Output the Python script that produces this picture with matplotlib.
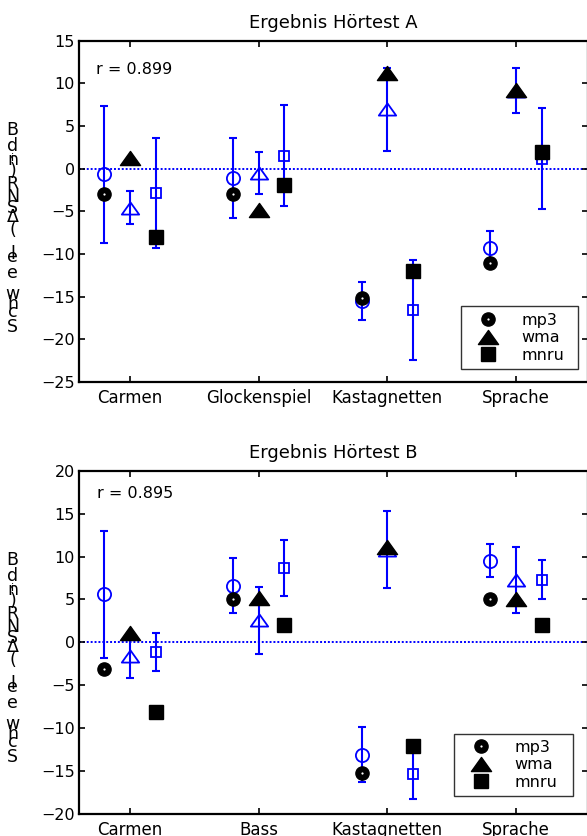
import matplotlib
matplotlib.use('Agg')
import matplotlib.pyplot as plt
from matplotlib.lines import Line2D
from matplotlib.path import Path

plt.rcParams['font.family'] = ['DejaVu Sans']

W, H, DPI = 587, 836, 100

series = ['mp3', 'wma', 'mnru']

# ---- Hörtest A ----
cats_a = ['Carmen', 'Glockenspiel', 'Kastagnetten', 'Sprache']
pred_mp3_a = [-3.0, -3.0, -15.1, -11.0]
pred_wma_a = [1.2, -4.8, 11.2, 9.2]
pred_mnru_a = [-8.0, -1.9, -12.0, 2.0]
hear_mp3_a = [-0.65, -1.1, -15.5, -9.3]
hear_mp3_err_a = [8.05, 4.67, 2.23, 2.05]
hear_wma_a = [-4.55, -0.5, 6.95, 9.15]
hear_wma_err_a = [1.9, 2.45, 4.87, 2.68]
hear_mnru_a = [-2.9, 1.5, -16.55, 1.15]
hear_mnru_err_a = [6.45, 5.92, 5.87, 5.92]
r_a = 'r = 0.899'
title_a = 'Ergebnis Hörtest A'
yticks_a = [-25, -20, -15, -10, -5, 0, 5, 10, 15]

# ---- Hörtest B ----
cats_b = ['Carmen', 'Bass', 'Kastagnetten', 'Sprache']
pred_mp3_b = [-3.1, 5.0, -15.2, 5.0]
pred_wma_b = [1.1, 5.2, 11.1, 5.1]
pred_mnru_b = [-8.1, 2.0, -12.1, 2.0]
hear_mp3_b = [5.6, 6.6, -13.1, 9.5]
hear_mp3_err_b = [7.4, 3.17, 3.22, 1.93]
hear_wma_b = [-1.6, 2.55, 10.8, 7.26]
hear_wma_err_b = [2.6, 3.95, 4.47, 3.83]
hear_mnru_b = [-1.1, 8.63, -15.3, 7.3]
hear_mnru_err_b = [2.2, 3.28, 3.0, 2.3]
r_b = 'r = 0.895'
title_b = 'Ergebnis Hörtest B'
yticks_b = [-20, -15, -10, -5, 0, 5, 10, 15, 20]

ylabel_chars = ['B', 'd', 'n', 'i', ')', 'R', 'N', 'S', 'Δ', '(', 'l', 'e', 'e', 'w', 'h', 'c', 'S']

BLUE = '#0000ff'
TRI = Path([(-1, -0.7), (1, -0.7), (0, 0.7), (-1, -0.7)],
           [Path.MOVETO, Path.LINETO, Path.LINETO, Path.CLOSEPOLY])
OFFS = [-0.2, 0.0, 0.2]

fig = plt.figure(figsize=(W / DPI, H / DPI), dpi=DPI)


def panel(ax, cats, preds, hears, errs, yticks, title, rtext, rpos, legpos):
    xs = range(1, len(cats) + 1)
    ax.axhline(0, color=BLUE, ls=(0, (1, 1)), lw=1.4, zorder=1)
    open_m = [dict(marker='o', ms=9.5), dict(marker=TRI, ms=12.5), dict(marker='s', ms=7.5)]
    fill_m = [dict(marker='o', ms=9.5), dict(marker=TRI, ms=14.5), dict(marker='s', ms=10)]
    for k in range(3):
        x = [i + OFFS[k] for i in xs]
        ax.errorbar(x, hears[k], yerr=errs[k], fmt='none', ecolor=BLUE,
                    elinewidth=1.5, capsize=2.6, capthick=1.5, zorder=2)
        ax.plot(x, hears[k], ls='none', mfc='none', mec=BLUE, mew=1.3, zorder=3, **open_m[k])
    for k in range(3):
        x = [i + OFFS[k] for i in xs]
        ax.plot(x, preds[k], ls='none', color='black', zorder=4, **fill_m[k])
        if k == 0:
            ax.plot(x, preds[k], ls='none', marker='o', ms=1.6, color='white', mew=0, zorder=5)
    ax.set_xlim(0.604, 4.56)
    ax.set_ylim(yticks[0], yticks[-1])
    ax.set_yticks(yticks)
    ax.set_xticks(list(xs))
    ax.set_xticklabels(cats, fontsize=12)
    ax.tick_params(axis='y', labelsize=11.5, pad=3)
    ax.tick_params(direction='in', top=True, right=True, length=4, width=1.2)
    ax.tick_params(axis='x', pad=5)
    for s in ax.spines.values():
        s.set_linewidth(1.6)
    ax.set_title(title, fontsize=13, pad=9)
    ax.text(rpos[0], rpos[1], rtext, transform=ax.transAxes, fontsize=11.5,
            ha='left', va='center')
    h_circ = (Line2D([], [], ls='none', marker='o', ms=9.5, color='black'),
              Line2D([], [], ls='none', marker='o', ms=1.6, color='white', mew=0))
    h_tri = Line2D([], [], ls='none', marker=TRI, ms=14.5, color='black')
    h_sq = Line2D([], [], ls='none', marker='s', ms=10, color='black')
    leg = ax.legend([h_circ, h_tri, h_sq], series, loc='lower left',
                    bbox_to_anchor=(legpos[0], legpos[1], legpos[2], legpos[3]), mode='expand',
                    fontsize=11.5, frameon=True, fancybox=False, borderaxespad=0,
                    labelspacing=0.15, handlelength=2.6, handletextpad=0.8, borderpad=0.4)
    leg.get_frame().set_edgecolor('black')
    leg.get_frame().set_linewidth(1.0)


ax_a = fig.add_axes([79 / W, 1 - 382 / H, 509 / W, 341.3 / H])
panel(ax_a, cats_a,
      [pred_mp3_a, pred_wma_a, pred_mnru_a],
      [hear_mp3_a, hear_wma_a, hear_mnru_a],
      [hear_mp3_err_a, hear_wma_err_a, hear_mnru_err_a],
      yticks_a, title_a, r_a, (0.033, 0.916), (0.750, 0.038, 0.230, 0.196))

ax_b = fig.add_axes([79 / W, 22 / H, 509 / W, 343.3 / H])
panel(ax_b, cats_b,
      [pred_mp3_b, pred_wma_b, pred_mnru_b],
      [hear_mp3_b, hear_wma_b, hear_mnru_b],
      [hear_mp3_err_b, hear_wma_err_b, hear_mnru_err_b],
      yticks_b, title_b, r_b, (0.036, 0.934), (0.736, 0.052, 0.235, 0.197))

# stacked (upright) y-label glyphs, offsets in px from axes top
yl_off = [89, 105, 119, 117, 130, 143, 156, 167, 176, 189, 213, 216, 232, 253, 263, 271, 286]
for top in (40.7, 470.7):
    for ch, off in zip(ylabel_chars, yl_off):
        fs = 8 if ch == 'i' else 12.5
        fig.text(12.7 / W, 1 - (top + off) / H, ch, ha='center', va='center', fontsize=fs)

fig.savefig('out.png', dpi=DPI)
